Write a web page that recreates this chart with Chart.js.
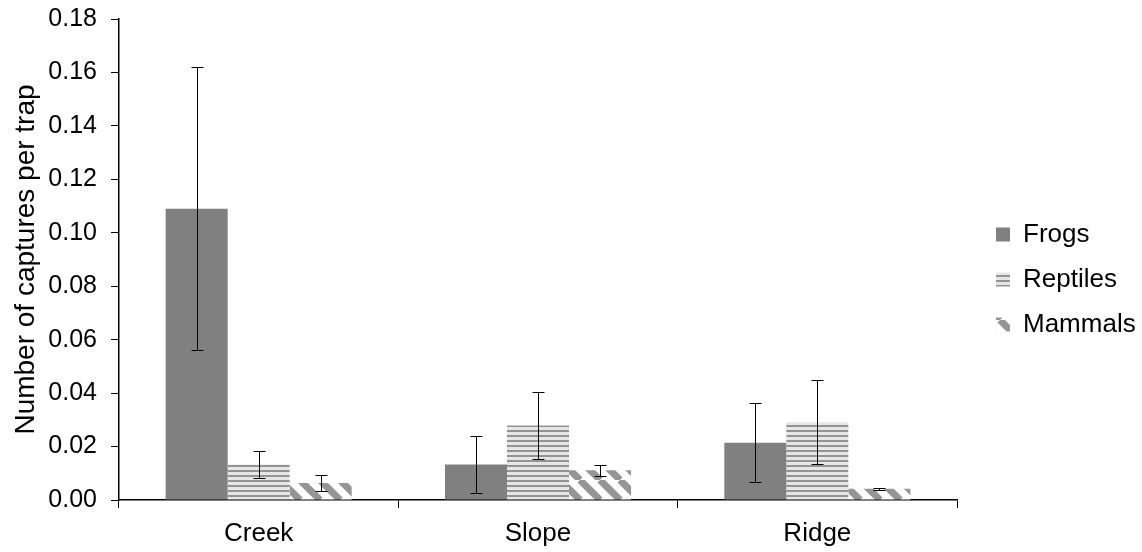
<!DOCTYPE html>
<html>
<head>
<meta charset="utf-8">
<script src="https://cdn.jsdelivr.net/npm/chart.js@4.4.1/dist/chart.umd.min.js"></script>
<style>
  html, body { margin: 0; padding: 0; background: #fff; }
  #wrap { width: 1142px; height: 552px; }
</style>
</head>
<body>
<div id="wrap"><canvas id="capChart" width="1142" height="552"></canvas></div>
<script>
// Data
const sites = ['Creek', 'Slope', 'Ridge'];
const frogs = [0.109, 0.0133, 0.0214];
const frogsErr = [0.053, 0.0106, 0.0148];
const reptiles = [0.0133, 0.0279, 0.0291];
const reptilesErr = [0.005, 0.0124, 0.0158];
const mammals = [0.0064, 0.0111, 0.0042];
const mammalsErr = [0.0029, 0.0021, 0.0004];
const yTicks = [0, 0.02, 0.04, 0.06, 0.08, 0.10, 0.12, 0.14, 0.16, 0.18];

const FONT = 'Liberation Sans, Arial, sans-serif';

// horizontal stripes for reptiles
function hStripes() {
    const c = document.createElement('canvas');
    c.width = 8; c.height = 5;
    const g = c.getContext('2d');
    g.fillStyle = '#e6e6e6';
    g.fillRect(0, 0, 8, 5);
    g.fillStyle = '#939393';
    g.fillRect(0, 0, 8, 2);
    return g.createPattern(c, 'repeat');
}

// wide downward diagonal for mammals
function dStripes() {
    const s = 20;
    const c = document.createElement('canvas');
    c.width = s; c.height = s;
    const g = c.getContext('2d');
    g.fillStyle = '#ffffff';
    g.fillRect(0, 0, s, s);
    g.strokeStyle = '#959595';
    g.lineWidth = 7;
    for (const k of [-s, 0, s]) {
        g.beginPath();
        g.moveTo(k, 0);
        g.lineTo(k + s, s);
        g.stroke();
    }
    return g.createPattern(c, 'repeat');
}

const errors = [frogsErr, reptilesErr, mammalsErr];

// error bars drawn from the y scale
const errorBars = {
    id: 'errorBars',
    afterDatasetsDraw(chart) {
        const ctx = chart.ctx;
        const y = chart.scales.y;
        ctx.save();
        ctx.strokeStyle = '#000';
        ctx.lineWidth = 1;
        chart.data.datasets.forEach((ds, i) => {
            const meta = chart.getDatasetMeta(i);
            meta.data.forEach((bar, j) => {
                const v = ds.data[j], e = errors[i][j];
                const x = Math.round(bar.x) + 0.5;
                const top = Math.round(y.getPixelForValue(v + e)) + 0.5;
                const bot = Math.round(y.getPixelForValue(v - e)) + 0.5;
                ctx.beginPath();
                ctx.moveTo(x, top); ctx.lineTo(x, bot);
                ctx.moveTo(x - 6, top); ctx.lineTo(x + 6, top);
                ctx.moveTo(x - 6, bot); ctx.lineTo(x + 6, bot);
                ctx.stroke();
            });
        });
        ctx.restore();
    }
};

const LEG_PAD = 19;

// legend: keep a gap to the plot, boxes start at x ~ 996
const legendPlace = {
    id: 'legendPlace',
    afterInit(chart) {
        const lg = chart.legend;
        const fit = lg.fit.bind(lg);
        lg.fit = function () { fit(); this.width = 185; };
    },
    afterLayout(chart) {
        const lg = chart.legend;
        lg.left = 996 - LEG_PAD;
        lg.right = 1142;
        lg.top -= 6;
        lg.bottom -= 6;
    }
};

const data = {
    labels: sites,
    datasets: [
        { label: 'Frogs', data: frogs, backgroundColor: '#808080', borderWidth: 0 },
        { label: 'Reptiles', data: reptiles, backgroundColor: hStripes(), borderWidth: 0 },
        { label: 'Mammals', data: mammals, backgroundColor: dStripes(), borderWidth: 0 }
    ]
};

const config = {
    type: 'bar',
    data: data,
    plugins: [errorBars, legendPlace],
    options: {
        responsive: false,
        animation: false,
        layout: { padding: { top: 19, right: 0, bottom: 0, left: 0 } },
        datasets: { bar: { categoryPercentage: 0.666, barPercentage: 1.0 } },
        scales: {
            x: {
                grid: { display: true, drawOnChartArea: false, drawTicks: true, tickLength: 8, color: '#000', offset: true },
                border: { color: '#000', width: 1.5 },
                ticks: { color: '#000', font: { family: FONT, size: 26 }, padding: 10 },
                afterFit(s) { s.height = 52; s.paddingLeft = 0; s.paddingRight = 0; }
            },
            y: {
                min: 0,
                max: 0.18,
                afterBuildTicks(s) { s.ticks = yTicks.map(v => ({ value: v })); },
                grid: { display: true, drawOnChartArea: false, drawTicks: true, tickLength: 8, color: '#000' },
                border: { color: '#000', width: 1.5 },
                ticks: { color: '#000', font: { family: FONT, size: 25 }, padding: 14,
                    callback: v => v.toFixed(2) },
                title: { display: true, text: 'Number of captures per trap', color: '#000',
                    font: { family: FONT, size: 28 }, padding: { top: 9, bottom: 0 } },
                afterFit(s) { s.width = 119; s.paddingTop = 0; s.paddingBottom = 0; }
            }
        },
        plugins: {
            legend: {
                position: 'right',
                labels: { boxWidth: 14, boxHeight: 14, padding: LEG_PAD, color: '#000',
                    font: { family: FONT, size: 26 } }
            },
            tooltip: { enabled: false }
        }
    }
};

const ctx = document.getElementById('capChart').getContext('2d');
const capChart = new Chart(ctx, config);
</script>
</body>
</html>
